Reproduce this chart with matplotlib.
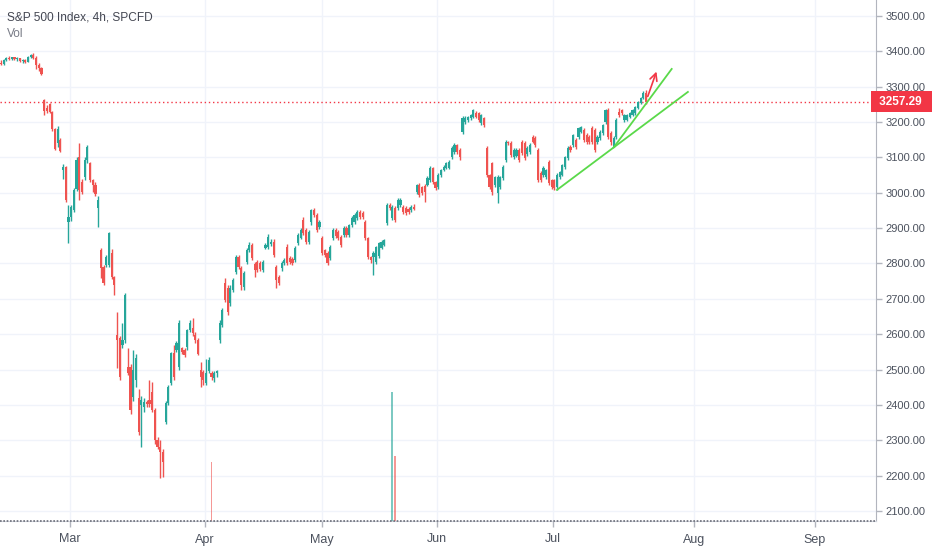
import numpy as np
import matplotlib.pyplot as plt
from matplotlib.transforms import blended_transform_factory

plt.rcParams['font.family'] = ['Liberation Sans', 'DejaVu Sans']

# 4h candles, S&P 500 CFD, mid Feb -> 20 Jul 2020
opens = [
    # late Feb top
    3368, 3364, 3375, 3382, 3378, 3383, 3377, 3380, 3373, 3375, 3371, 3384, 3389, 3382, 3360, 3352,
    # crash week
    3262, 3240, 3250, 3228, 3180, 3140, 3150,
    3064, 3072, 2918, 2931, 2951, 3010, 3101, 3030, 3044, 3093, 3084, 3036, 3022, 2957,
    # March - May
    2838, 2790, 2796, 2796, 2830, 2762, 2598, 2589, 2569, 2584,
    2507, 2507, 2422, 2470, 2419, 2400, 2395, 2408,
    2413, 2436, 2385, 2300,
    2281, 2267, 2352, 2405, 2462, 2547, 2555, 2507, 2561, 2555,
    2564, 2612, 2617, 2598, 2584,
    2499, 2493, 2462, 2497, 2490, 2476, 2490,
    2583, 2626, 2745, 2730, 2688, 2725, 2776, 2818, 2787, 2733, 2804, 2838, 2852,
    2798, 2804, 2800, 2781, 2844, 2847, 2855, 2861, 2790, 2762,
    2787, 2801, 2847, 2815, 2812, 2810, 2858, 2872, 2923, 2895, 2861,
    2917, 2951, 2937, 2903, 2872, 2838, 2830, 2815, 2872, 2895, 2889, 2875, 2880, 2900, 2880,
    2909, 2917, 2928, 2945, 2942, 2917, 2872, 2818,
    2818, 2804, 2820, 2844, 2852, 2914, 2965, 2928, 2957, 2957, 2965, 2960, 2957, 2954, 2951, 2960,
    # late May - July
    3002, 3022, 3016, 3019, 3022, 3036, 3070, 3030, 3016, 3050, 3064, 3070, 3070,
    3101, 3115, 3135, 3121, 3172, 3200, 3205, 3211, 3214, 3225,
    3225, 3197, 3211, 3127, 3050, 3084, 3022, 2999, 3016, 3042,
    3093, 3143, 3140, 3101, 3104, 3121, 3143, 3140,
    3110, 3115, 3158, 3155, 3121, 3056, 3050, 3044, 3087, 3036,
    3036, 3016, 3045, 3050, 3073, 3098,
    3129, 3135, 3149, 3158, 3172,
    3177, 3163, 3158, 3183, 3177, 3143, 3155, 3169, 3200, 3234, 3169, 3129,
    3158, 3228, 3234, 3205, 3207, 3214, 3220, 3225, 3240, 3254, 3268, 3282,
]
highs = [
    3374, 3378, 3385, 3386, 3384, 3385, 3383, 3382, 3378, 3377, 3386, 3393, 3395, 3386, 3368, 3356,
    3265, 3248, 3255, 3230, 3182, 3190, 3155,
    3080, 3076, 2965, 2965, 3012, 3100, 3141, 3040, 3100, 3135, 3088, 3040, 3030, 2990,
    2845, 2795, 2825, 2890, 2840, 2765, 2663, 2595, 2632, 2715,
    2560, 2515, 2555, 2545, 2445, 2425, 2420, 2415,
    2470, 2465, 2390, 2310,
    2300, 2275, 2410, 2455, 2550, 2570, 2580, 2640, 2565, 2560,
    2615, 2640, 2645, 2605, 2590,
    2520, 2500, 2530, 2535, 2495, 2495, 2500,
    2640, 2675, 2760, 2740, 2740, 2760, 2825, 2825, 2792, 2780, 2845, 2860, 2858,
    2805, 2810, 2808, 2810, 2858, 2882, 2870, 2868, 2795, 2768,
    2807, 2815, 2855, 2820, 2818, 2850, 2885, 2900, 2930, 2900, 2895,
    2955, 2958, 2942, 2922, 2878, 2842, 2835, 2852, 2900, 2900, 2895, 2880, 2905, 2905, 2912,
    2934, 2942, 2950, 2950, 2947, 2922, 2876, 2822,
    2835, 2850, 2862, 2866, 2870, 2970, 2972, 2966, 2962, 2985, 2984, 2966, 2962, 2960, 2964, 2968,
    3026, 3027, 3020, 3024, 3046, 3075, 3074, 3034, 3055, 3068, 3077, 3088, 3092,
    3131, 3140, 3139, 3126, 3216, 3216, 3218, 3224, 3238, 3230,
    3229, 3224, 3215, 3132, 3054, 3088, 3048, 3050, 3048, 3078,
    3148, 3147, 3145, 3126, 3126, 3126, 3148, 3145,
    3131, 3140, 3163, 3160, 3126, 3060, 3075, 3068, 3092, 3040,
    3040, 3055, 3062, 3082, 3105, 3131,
    3134, 3167, 3154, 3187, 3190,
    3182, 3168, 3162, 3188, 3182, 3162, 3176, 3195, 3238, 3240, 3174, 3160,
    3210, 3240, 3238, 3224, 3224, 3229, 3238, 3246, 3260, 3272, 3287, 3290,
]
lows = [
    3360, 3362, 3372, 3376, 3374, 3375, 3372, 3370, 3366, 3368, 3369, 3380, 3378, 3350, 3345, 3332,
    3220, 3225, 3225, 3175, 3120, 3130, 3115,
    3040, 2975, 2858, 2920, 2945, 3005, 2980, 2995, 3035, 3085, 3030, 3002, 2990, 2903,
    2759, 2740, 2790, 2790, 2755, 2711, 2504, 2470, 2560, 2575,
    2485, 2375, 2410, 2450, 2315, 2281, 2380, 2395,
    2395, 2380, 2290, 2275,
    2193, 2196, 2345, 2400, 2455, 2470, 2550, 2500, 2545, 2535,
    2555, 2605, 2595, 2575, 2540,
    2450, 2455, 2455, 2490, 2470, 2465, 2478,
    2575, 2620, 2690, 2655, 2680, 2720, 2770, 2785, 2725, 2725, 2798, 2832, 2810,
    2762, 2775, 2778, 2775, 2840, 2842, 2848, 2818, 2730, 2738,
    2780, 2795, 2795, 2798, 2795, 2805, 2852, 2868, 2880, 2855, 2855,
    2910, 2930, 2890, 2898, 2825, 2818, 2795, 2810, 2865, 2872, 2866, 2846, 2875, 2874, 2876,
    2904, 2912, 2922, 2926, 2925, 2866, 2812, 2800,
    2767, 2798, 2815, 2840, 2848, 2908, 2950, 2922, 2918, 2952, 2960, 2940, 2937, 2940, 2946, 2950,
    2997, 2988, 2994, 2974, 3018, 3030, 3025, 3008, 3010, 3045, 3060, 3066, 3066,
    3096, 3110, 3110, 3093, 3166, 3195, 3200, 3206, 3210, 3210,
    3200, 3192, 3186, 3045, 3010, 2994, 3017, 2971, 3010, 3036,
    3088, 3135, 3102, 3096, 3100, 3088, 3107, 3093,
    3105, 3110, 3140, 3130, 3030, 3030, 3045, 3040, 3022, 3010,
    3008, 3008, 3040, 3046, 3068, 3093,
    3116, 3130, 3124, 3153, 3168,
    3144, 3138, 3138, 3138, 3115, 3138, 3150, 3164, 3195, 3152, 3135, 3128,
    3152, 3215, 3220, 3200, 3203, 3210, 3216, 3221, 3236, 3250, 3264, 3252,
]
closes = [
    3364, 3375, 3382, 3378, 3383, 3377, 3380, 3373, 3375, 3371, 3384, 3389, 3382, 3360, 3352, 3337,
    3230, 3232, 3228, 3180, 3125, 3180, 3118,
    3072, 2980, 2930, 2960, 3008, 3093, 3008, 3002, 3093, 3129, 3036, 3022, 2995, 2980,
    2787, 2745, 2818, 2886, 2762, 2739, 2584, 2479, 2584, 2711,
    2490, 2385, 2500, 2533, 2323, 2414, 2408, 2402,
    2402, 2385, 2300, 2281,
    2267, 2238, 2405, 2450, 2547, 2479, 2575, 2632, 2550, 2541,
    2612, 2632, 2603, 2584, 2545,
    2479, 2470, 2490, 2527, 2479, 2490, 2495,
    2632, 2668, 2697, 2663, 2730, 2753, 2818, 2790, 2739, 2773, 2838, 2852, 2815,
    2781, 2781, 2785, 2804, 2852, 2875, 2862, 2824, 2753, 2745,
    2801, 2810, 2801, 2804, 2800, 2844, 2880, 2895, 2886, 2861, 2890,
    2951, 2937, 2895, 2917, 2830, 2824, 2801, 2847, 2895, 2878, 2872, 2852, 2900, 2880, 2909,
    2929, 2937, 2945, 2932, 2930, 2872, 2818, 2810,
    2830, 2846, 2858, 2861, 2866, 2965, 2957, 2960, 2923, 2979, 2979, 2945, 2942, 2945, 2960, 2955,
    3022, 2993, 2999, 3002, 3042, 3070, 3030, 3013, 3050, 3064, 3073, 3084, 3087,
    3127, 3135, 3115, 3101, 3211, 3211, 3214, 3220, 3234, 3214,
    3205, 3220, 3191, 3050, 3016, 3002, 3044, 3044, 3044, 3073,
    3143, 3140, 3107, 3121, 3121, 3093, 3112, 3098,
    3127, 3135, 3144, 3135, 3036, 3036, 3070, 3064, 3027, 3016,
    3013, 3050, 3058, 3078, 3101, 3127,
    3121, 3163, 3129, 3183, 3186,
    3149, 3143, 3143, 3143, 3121, 3158, 3172, 3191, 3234, 3158, 3143, 3155,
    3205, 3220, 3225, 3220, 3220, 3225, 3234, 3242, 3256, 3268, 3282, 3257.29,
]

# volume: only a few spikes are visible, the rest sit on the floor
vol_bar = [78, 145, 146]
vol_val = [590000, 1290000, 650000]

# month labels, as bar numbers (future ones extrapolated by the chart)
months = ['Mar', 'Apr', 'May', 'Jun', 'Jul', 'Aug', 'Sep']
month_bar = [25.6, 75.6, 118.9, 161.5, 204.5, 256.8, 301.6]

price_ticks = list(range(2100, 3600, 100))
last_price = 3257.29

# drawings
trend1_bar = [206, 254.5]
trend1_px = [3008, 3285]
trend2_bar = [227, 248.5]
trend2_px = [3128, 3350]
arrow_bar = [239.3, 243.2]
arrow_px = [3265, 3350]

GREEN = '#26a69a'
RED = '#ef5350'
TEXT = '#4c525e'

o = np.array(opens, dtype=float)
h = np.array(highs, dtype=float)
l = np.array(lows, dtype=float)
c = np.array(closes, dtype=float)
x = np.arange(len(o))
up = c >= o
cols = np.where(up, GREEN, RED)

fig = plt.figure(figsize=(9.32, 5.5), dpi=100)
ax = fig.add_axes([0, 29 / 550, 876 / 932, 521 / 550])
ax.set_xlim(-0.37, 324.2)
ax.set_ylim(2071.6, 3545)

ax.grid(True, color='#f0f3fa', linewidth=1)
ax.set_axisbelow(True)

# candles
ax.vlines(x, l, h, colors=cols, linewidth=1.0, zorder=3)
body = np.maximum(np.abs(c - o), 2)
ax.bar(x, body, bottom=np.minimum(o, c), width=0.8, color=cols, linewidth=0, zorder=4)

# last price line
ax.axhline(last_price, color='#f23645', linestyle=(0, (1, 2)), linewidth=1, zorder=2)

# trend lines + arrow
ax.plot(trend1_bar, trend1_px, color='#5ad94a', linewidth=1.3, zorder=5)
ax.plot(trend2_bar, trend2_px, color='#5ad94a', linewidth=1.3, zorder=5)
ax.annotate('', xy=(arrow_bar[1], arrow_px[1]), xytext=(arrow_bar[0], arrow_px[0]),
            arrowprops=dict(arrowstyle='->', color='#f23645', lw=1.2, mutation_scale=13),
            zorder=6)

# axes styling
for s in ['top', 'left']:
    ax.spines[s].set_visible(False)
ax.spines['right'].set_color('#b2b5be')
ax.spines['bottom'].set_color('#d1d4dc')
ax.yaxis.tick_right()
ax.set_yticks(price_ticks)
ax.set_yticklabels(['%.2f' % p for p in price_ticks])
ax.tick_params(axis='y', length=4, width=1, color='#b2b5be', labelcolor=TEXT,
               labelsize=8, pad=3)
ax.set_xticks(month_bar)
ax.set_xticklabels(months)
ax.tick_params(axis='x', length=4, width=1, color='#b2b5be', labelcolor=TEXT,
               labelsize=9, pad=5)

# price tag on the axis
tr = blended_transform_factory(ax.transAxes, ax.transData)
ax.text(1.0, last_price, ' 3257.29  ', transform=tr, ha='left', va='center',
        color='white', fontsize=8.5, fontweight='bold', clip_on=False, zorder=10,
        bbox=dict(boxstyle='square,pad=0.4', fc='#f23645', ec='none'))

# volume pane
vax = fig.add_axes([0, 29 / 550, 876 / 932, 521 / 550], sharex=ax, frameon=False)
vax.set_ylim(0, 5.21e6)
vcols = [GREEN if up[i] else RED for i in vol_bar]
vax.bar(vol_bar, vol_val, width=0.7, color=vcols, alpha=0.6, linewidth=0)
vax.axhline(0, color='#6a6d78', linestyle=(0, (1, 1)), linewidth=1.2, clip_on=False)
vax.axis('off')

fig.text(7 / 932, 1 - 17 / 550, 'S&P 500 Index, 4h, SPCFD', fontsize=8.6, color='#434651',
         va='center', ha='left')
fig.text(7 / 932, 1 - 34 / 550, 'Vol', fontsize=8.6, color='#787b86', va='center', ha='left')

fig.savefig('out.png', dpi=100, facecolor='white')
